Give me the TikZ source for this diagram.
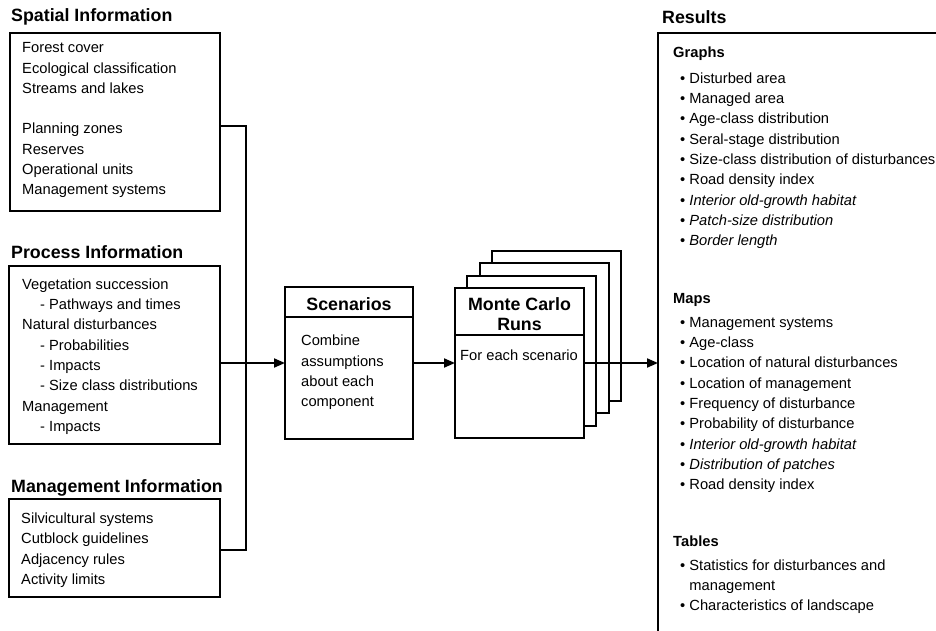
\documentclass[tikz,border=0pt]{standalone}
\usepackage{fontspec}
\setmainfont{Liberation Sans}
\usetikzlibrary{arrows.meta}
\tikzset{frame/.style={draw,line width=1.9pt,inner sep=0pt,outer sep=0pt,anchor=north west}}
\tikzset{head/.style={font=\fontsize{17.8}{20}\selectfont\bfseries,inner sep=0pt,anchor=base west}}
\tikzset{body/.style={font=\fontsize{14.7}{20.3}\selectfont,align=left,inner sep=0pt,anchor=north west}}
\tikzset{wire/.style={line width=1.9pt}}
\tikzset{feed/.style={line width=1.9pt,-{Triangle[length=11pt,width=9pt]}}}
\newcommand{\itm}{\hspace*{7pt}\textbullet\ }
\newcommand{\sub}{\hspace*{18pt}- }

\begin{document}
\begin{tikzpicture}[x=1pt,y=-1pt]
  \useasboundingbox (0,0) rectangle (936,631);
  \clip (0,0) rectangle (936,631);
  \node[head] (spatialhead) at (11,22) {Spatial Information};
  \node[frame,minimum width=210,minimum height=178] (spatial) at (10,33) {};
  \node[body] (spatialtxt) at (22,38.3) {\strut Forest cover\\Ecological classification\\Streams and lakes\\[20.3pt]Planning zones\\Reserves\\Operational units\\Management systems};
  \node[head] (processhead) at (11,258) {Process Information};
  \node[frame,minimum width=211,minimum height=178] (process) at (9,266) {};
  \node[body] (processtxt) at (22,274.8) {\strut Vegetation succession\\\sub Pathways and times\\Natural disturbances\\\sub Probabilities\\\sub Impacts\\\sub Size class distributions\\Management\\\sub Impacts};
  \node[head] (mgmthead) at (11,492) {Management Information};
  \node[frame,minimum width=211,minimum height=98] (mgmt) at (9,499) {};
  \node[body] (mgmttxt) at (21,509.1) {\strut Silvicultural systems\\Cutblock guidelines\\Adjacency rules\\Activity limits};
  \node[frame,minimum width=128,minimum height=152] (scen) at (285,287) {};
  \draw[wire] ([yshift=-30pt]scen.north west) -- ([yshift=-30pt]scen.north east);
  \node[head,anchor=base] (scenhead) at (349,310) {Scenarios};
  \node[body] (scentxt) at (301,331.3) {\strut Combine\\assumptions\\about each\\component};
  \foreach \k in {3,2,1}
    \node[frame,fill=white,minimum width=129,minimum height=150] (mc\k) at (455+12.3*\k,288-12.3*\k) {};
  \node[frame,fill=white,minimum width=129,minimum height=150] (mc) at (455,288) {};
  \draw[wire] ([yshift=-47pt]mc.north west) -- ([yshift=-47pt]mc.north east);
  \node[head,anchor=north,align=center] (mchead) at (519.5,296.7) {\strut Monte Carlo\\Runs};
  \node[body,anchor=base west] (mctxt) at (460,360) {For each scenario};
  \node[head] (resultshead) at (662,24) {Results};
  \node[frame,minimum width=400,minimum height=700] (results) at (658,33) {};
  \node[body] (graphs) at (673,42.8) {\strut\textbf{Graphs}\\[5.7pt]\itm Disturbed area\\\itm Managed area\\\itm Age-class distribution\\\itm Seral-stage distribution\\\itm Size-class distribution of disturbances\\\itm Road density index\\\itm\textit{Interior old-growth habitat}\\\itm\textit{Patch-size distribution}\\\itm\textit{Border length}};
  \node[body] (maps) at (673,288.8) {\strut\textbf{Maps}\\[3.7pt]\itm Management systems\\\itm Age-class\\\itm Location of natural disturbances\\\itm Location of management\\\itm Frequency of disturbance\\\itm Probability of disturbance\\\itm\textit{Interior old-growth habitat}\\\itm\textit{Distribution of patches}\\\itm Road density index};
  \node[body] (tables) at (673,531.8) {\strut\textbf{Tables}\\[3.7pt]\itm Statistics for disturbances and\\\hspace*{7pt}\hphantom{\textbullet}\ management\\\itm Characteristics of landscape};
  \draw[wire] ([yshift=-4pt]spatial.east) -- ++(26,0) |- ([yshift=-2pt]mgmt.east);
  \draw[feed] (process.east |- scen.west) -- (scen.west);
  \draw[feed] (scen.east) -- (mc.west);
  \draw[feed] (mc.east) -- (mc.east -| results.west);
\end{tikzpicture}
\end{document}
